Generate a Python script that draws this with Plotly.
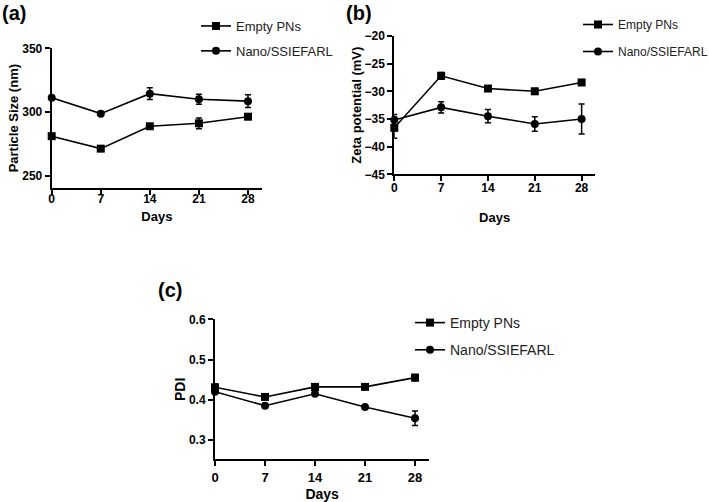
import plotly.graph_objects as go

days = [0, 7, 14, 21, 28]
day_ticks = [0, 7, 14, 21, 28]

# (a) particle size (nm)
a_empty = [281.0, 271.2, 288.8, 291.1, 296.3]
a_empty_err = [1.5, 1.2, 1.5, 4.2, 1.5]
a_nano = [311.2, 298.7, 314.4, 310.0, 308.5]
a_nano_err = [1.5, 1.2, 4.7, 4.0, 5.0]

# (b) zeta potential (mV)
b_empty = [-36.6, -27.2, -29.5, -30.0, -28.4]
b_empty_err = [1.9, 0.6, 0.3, 0.5, 0.3]
b_nano = [-35.2, -32.9, -34.5, -35.9, -35.0]
b_nano_err = [1.0, 1.0, 1.2, 1.3, 2.7]

# (c) PDI
c_empty = [0.431, 0.407, 0.432, 0.432, 0.455]
c_empty_err = [0.008, 0.006, 0.005, 0.005, 0.008]
c_nano = [0.420, 0.385, 0.415, 0.382, 0.354]
c_nano_err = [0.005, 0.005, 0.005, 0.004, 0.018]

names = ["Empty PNs", "Nano/SSIEFARL"]
symbols = ["square", "circle"]

FONT = "Liberation Sans, Arial, sans-serif"
W, H = 709, 502

fig = go.Figure()

panels = [
    ("x", "y", "legend", [a_empty, a_nano], [a_empty_err, a_nano_err]),
    ("x2", "y2", "legend2", [b_empty, b_nano], [b_empty_err, b_nano_err]),
    ("x3", "y3", "legend3", [c_empty, c_nano], [c_empty_err, c_nano_err]),
]
for xa, ya, lg, vals, errs in panels:
    for i in range(2):
        fig.add_trace(go.Scatter(
            x=days, y=vals[i], name=names[i], mode="lines+markers",
            xaxis=xa, yaxis=ya, legend=lg, legendgroup=lg + str(i),
            line=dict(color="black", width=1.6),
            marker=dict(symbol=symbols[i], size=8, color="black"),
            error_y=dict(type="data", array=errs[i], visible=True,
                         color="black", thickness=1.5, width=3),
            cliponaxis=False,
        ))

def px_dom_x(a, b):
    return [a / W, b / W]

def px_dom_y(top, bottom):
    return [1 - bottom / H, 1 - top / H]

def tfont(size):
    return dict(family=FONT, size=size, color="black", weight="bold")

def xaxis(dom, anchor, fs, tfs, standoff, lblstand):
    return dict(domain=dom, anchor=anchor, range=[0, 30], tickvals=day_ticks,
                showline=True, linecolor="black", linewidth=2,
                ticks="outside", ticklen=5, tickwidth=2, tickcolor="black",
                showgrid=False, zeroline=False, tickfont=tfont(fs),
                ticklabelstandoff=lblstand,
                title=dict(text="Days", font=tfont(tfs), standoff=standoff))

def yaxis(dom, anchor, rng, tv, title, standoff, fs, tfs):
    return dict(domain=dom, anchor=anchor, range=rng, tickvals=tv,
                showline=True, linecolor="black", linewidth=2,
                ticks="outside", ticklen=5, tickwidth=2, tickcolor="black",
                showgrid=False, zeroline=False, tickfont=tfont(fs),
                title=dict(text=title, font=tfont(tfs), standoff=standoff))

xa = xaxis(px_dom_x(51.7, 262), "y", 12, 13, 6, -6)
xb = xaxis(px_dom_x(394.3, 595), "y2", 12, 13, 19, -4)
xc = xaxis(px_dom_x(215, 429.3), "y3", 13, 14, 8, 0)

ya = yaxis(px_dom_y(48.3, 188), "x", [240.3, 350], [250, 300, 350], "Particle Size (nm)", 1, 12, 13)
yb = yaxis(px_dom_y(36, 174.3), "x2", [-45, -20], [-45, -40, -35, -30, -25, -20], "Zeta potential (mV)", 0, 12, 13)
yc = yaxis(px_dom_y(319.3, 459.3), "x3", [0.252, 0.6], [0.3, 0.4, 0.5, 0.6], "PDI", 0, 12, 14)
yc["tickformat"] = ".1f"

def legend(xpx, ypx, fs, gap):
    return dict(x=xpx / W, y=1 - ypx / H, xanchor="left", yanchor="top",
                bgcolor="rgba(0,0,0,0)",
                font=dict(family=FONT, size=fs, color="#222"),
                tracegroupgap=gap, itemwidth=30)

fig.update_layout(
    width=W, height=H, margin=dict(l=0, r=0, t=0, b=0, autoexpand=False),
    paper_bgcolor="white", plot_bgcolor="white",
    showlegend=True,
    xaxis=xa, yaxis=ya, xaxis2=xb, yaxis2=yb, xaxis3=xc, yaxis3=yc,
    legend=legend(196, 11, 13, 5),
    legend2=legend(578, 10, 12, 8),
    legend3=legend(410, 307, 14, 6),
    annotations=[
        dict(text="(a)", x=0 / W, y=1 - 13 / H, xref="paper", yref="paper",
             xanchor="left", yanchor="middle", showarrow=False,
             font=dict(family=FONT, size=20, color="black", weight="bold")),
        dict(text="(b)", x=344 / W, y=1 - 13 / H, xref="paper", yref="paper",
             xanchor="left", yanchor="middle", showarrow=False,
             font=dict(family=FONT, size=20, color="black", weight="bold")),
        dict(text="(c)", x=156 / W, y=1 - 290 / H, xref="paper", yref="paper",
             xanchor="left", yanchor="middle", showarrow=False,
             font=dict(family=FONT, size=20, color="black", weight="bold")),
    ],
)

fig.write_html("out.html")
